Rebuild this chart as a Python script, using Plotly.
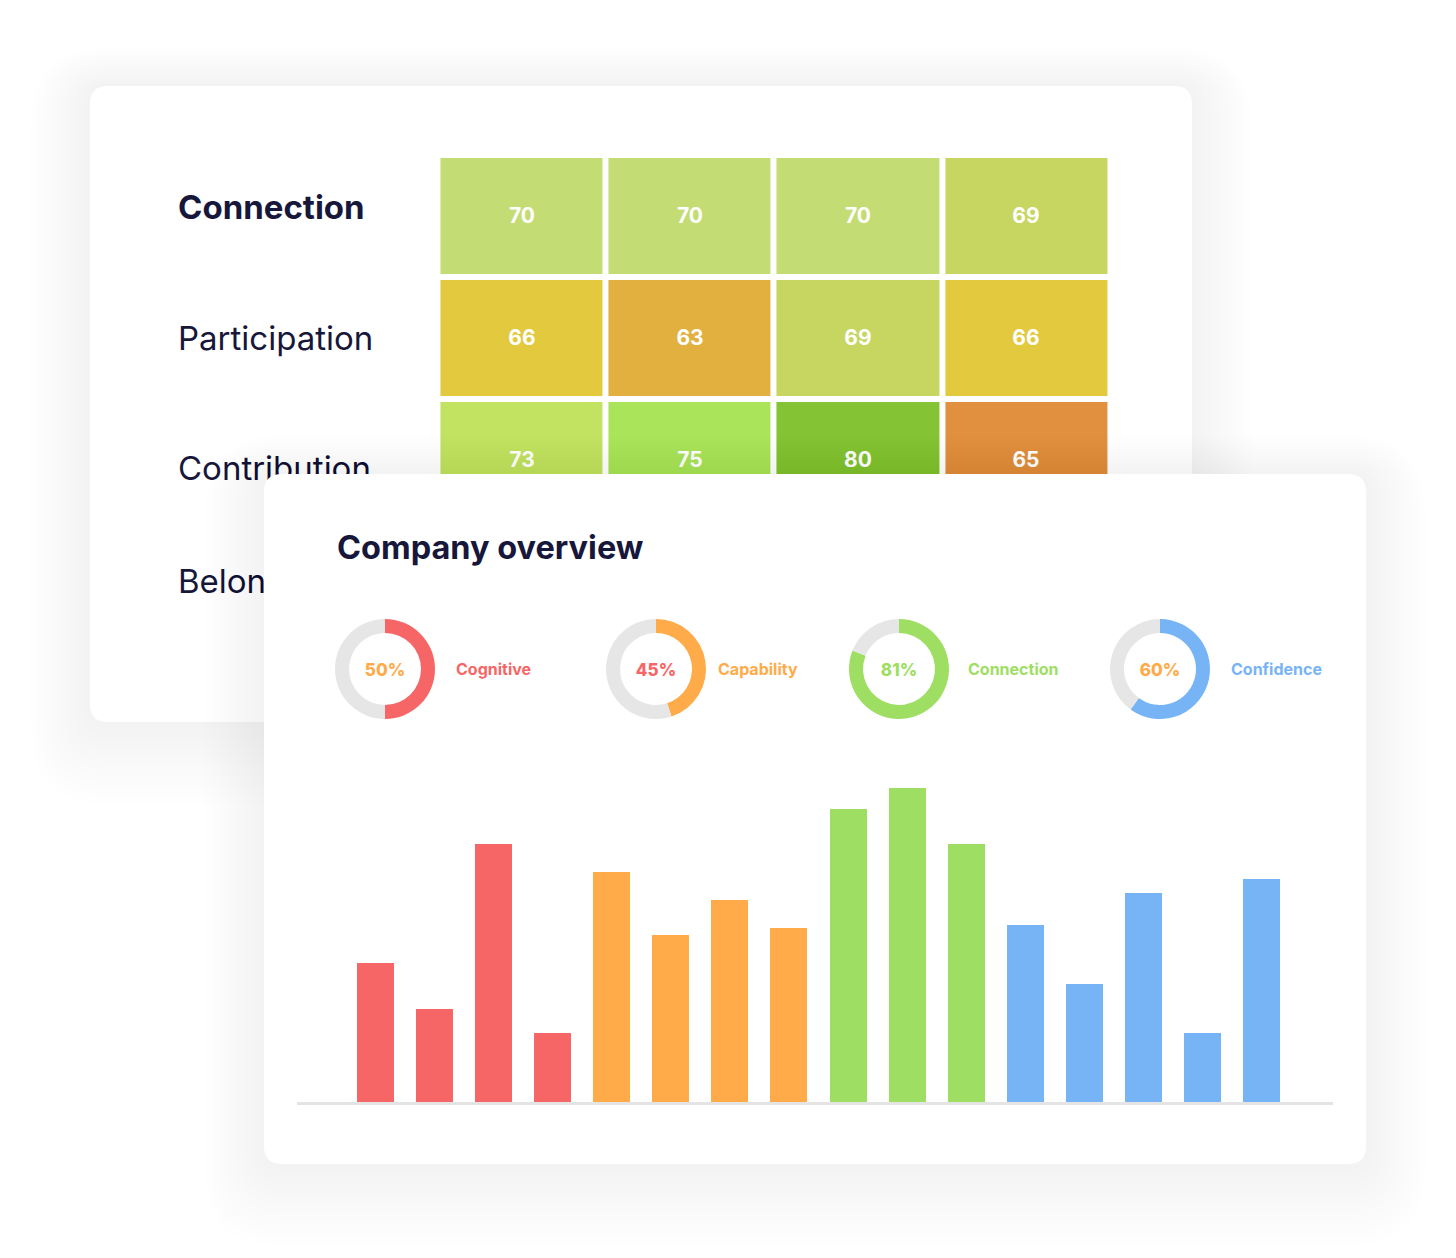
import plotly.graph_objects as go

# ---------------- DATA ----------------
ROW_NAMES = ["Connection", "Participation", "Contribution", "Belonging"]
CONNECTION_ROW = [70, 70, 70, 69]
PARTICIPATION_ROW = [66, 63, 69, 66]
CONTRIBUTION_ROW = [73, 75, 80, 65]

DIMENSIONS = ["Cognitive", "Capability", "Connection", "Confidence"]
DIMENSION_PCT = [50, 45, 81, 60]

COGNITIVE_BARS = [40, 27, 74, 20]
CAPABILITY_BARS = [66, 48, 58, 50]
CONNECTION_BARS = [84, 90, 74]
CONFIDENCE_BARS = [51, 34, 60, 20, 64]

TITLE = "Company overview"

# ---------------- STYLE / LAYOUT ----------------
W, H = 1456, 1258
FONT = "Inter"
NAVY = "#17173b"
SERIES_COLORS = ["#f76666", "#ffab4a", "#9ede62", "#76b4f6"]
CENTER_TEXT_COLORS = ["#ffab4a", "#f76666", "#9ede62", "#ffab4a"]
TRACK_GRAY = "#e6e6e6"
SCORE_COLORS = {63: "#e2b03e", 65: "#e0903e", 66: "#e2c93e", 69: "#c6d660",
                70: "#c4dc74", 73: "#c2e262", 75: "#aae45a", 80: "#84c434"}

CARD1 = (90, 86, 1192, 722)
CARD2 = (264, 474, 1366, 1164)
RADIUS = 18

COL0, COL_PITCH = 521.5, 168.2
ROW0, ROW_PITCH = 216, 122
LABEL_X_PX = 178
LABEL_Y_PX = [211, 342, 472, 585]

DONUT_CX = [385, 656, 899, 1160]
DONUT_CY = 669
DONUT_R = 50
DONUT_LABEL_X = [454, 716, 966, 1229]

BAR_LEFT_PX, BAR_RIGHT_PX = 346, 1291
BAR_BASE_PX, BAR_TOP_PX = 1103, 753


def px_x(p):
    return p / W


def px_y(p):
    return 1 - p / H


def rrect_path(x0, y0, x1, y1, r, fx=lambda v: v, fy=lambda v: v):
    pts = [
        ("M", [(x0 + r, y0)]),
        ("L", [(x1 - r, y0)]), ("Q", [(x1, y0), (x1, y0 + r)]),
        ("L", [(x1, y1 - r)]), ("Q", [(x1, y1), (x1 - r, y1)]),
        ("L", [(x0 + r, y1)]), ("Q", [(x0, y1), (x0, y1 - r)]),
        ("L", [(x0, y0 + r)]), ("Q", [(x0, y0), (x0 + r, y0)]),
    ]
    s = ""
    for cmd, ps in pts:
        s += cmd + " " + " ".join(f"{fx(a):.6f},{fy(b):.6f}" for a, b in ps) + " "
    return s + "Z"


fig = go.Figure()

# ---- subplot 1: heatmap card ----
zmin, zmax = min(SCORE_COLORS), max(SCORE_COLORS)
colorscale = [[(v - zmin) / (zmax - zmin), c] for v, c in sorted(SCORE_COLORS.items())]
z = [CONNECTION_ROW, PARTICIPATION_ROW, CONTRIBUTION_ROW]
fig.add_trace(go.Heatmap(
    z=z, x=list(range(len(CONNECTION_ROW))), y=list(range(len(z))),
    xgap=6, ygap=6, colorscale=colorscale, zmin=zmin, zmax=zmax,
    showscale=False, texttemplate="%{z}",
    textfont=dict(family=FONT, size=21, color="white", weight=700),
    hoverinfo="skip", xaxis="x", yaxis="y"))

labels = [f"<b>{ROW_NAMES[0]}</b>"] + ROW_NAMES[1:]
fig.add_trace(go.Scatter(
    x=[(LABEL_X_PX - COL0) / COL_PITCH] * len(ROW_NAMES),
    y=[(p - ROW0) / ROW_PITCH for p in LABEL_Y_PX],
    mode="text", text=labels, textposition="middle right",
    textfont=dict(family=FONT, size=33, color=NAVY),
    cliponaxis=True, hoverinfo="skip", showlegend=False, xaxis="x", yaxis="y"))

# ---- subplot 2: canvas for the front card ----
fig.add_trace(go.Scatter(x=[], y=[], xaxis="x2", yaxis="y2", showlegend=False))

# ---- subplot 3: bars ----
groups = [COGNITIVE_BARS, CAPABILITY_BARS, CONNECTION_BARS, CONFIDENCE_BARS]
idx = 0
for name, vals, col in zip(DIMENSIONS, groups, SERIES_COLORS):
    fig.add_trace(go.Bar(
        x=list(range(idx, idx + len(vals))), y=vals, name=name,
        marker=dict(color=col, line=dict(width=0)), width=0.626,
        hoverinfo="skip", showlegend=False, xaxis="x3", yaxis="y3"))
    idx += len(vals)
n_bars = idx

# ---- donuts ----
for i, (name, pct) in enumerate(zip(DIMENSIONS, DIMENSION_PCT)):
    cx = DONUT_CX[i]
    fig.add_trace(go.Pie(
        values=[pct, 100 - pct], labels=[name, "rest"], sort=False,
        direction="clockwise", rotation=0, hole=0.72,
        marker=dict(colors=[SERIES_COLORS[i], TRACK_GRAY], line=dict(width=0)),
        textinfo="none", hoverinfo="skip", showlegend=False,
        title=dict(text=f"{pct}%", position="middle center",
                   font=dict(family=FONT, size=17, color=CENTER_TEXT_COLORS[i], weight=800)),
        domain=dict(x=[px_x(cx - DONUT_R), px_x(cx + DONUT_R)],
                    y=[px_y(DONUT_CY + DONUT_R), px_y(DONUT_CY - DONUT_R)])))

# ---- shapes ----
shapes = []


def shadow_layers(card, xref, yref, fx, fy):
    out = []
    x0, y0, x1, y1 = card
    for k in range(1, 13):
        e = 5 * k
        dy = 1.8 * k
        out.append(dict(type="path", xref=xref, yref=yref, layer="below",
                        path=rrect_path(x0 - e, y0 - e + dy, x1 + e, y1 + e + dy,
                                        RADIUS + e, fx, fy),
                        fillcolor="rgba(70,70,95,0.0055)", line=dict(width=0)))
    return out


# card 1 (paper, under everything)
shapes += shadow_layers(CARD1, "paper", "paper", px_x, px_y)
shapes.append(dict(type="path", xref="paper", yref="paper", layer="below",
                   path=rrect_path(*CARD1, RADIUS, px_x, px_y),
                   fillcolor="white", line=dict(width=0)))
# card 2 (canvas subplot, above the heatmap)
shapes += shadow_layers(CARD2, "x2", "y2", lambda v: v, lambda v: v)
shapes.append(dict(type="path", xref="x2", yref="y2", layer="below",
                   path=rrect_path(*CARD2, RADIUS),
                   fillcolor="white", line=dict(width=0)))
# baseline
shapes.append(dict(type="line", xref="paper", yref="paper", layer="above",
                   x0=px_x(297), x1=px_x(1333), y0=px_y(1103.5), y1=px_y(1103.5),
                   line=dict(color="#e4e4e4", width=3)))

# ---- annotations ----
annotations = [dict(text=f"<b>{TITLE}</b>", x=px_x(335), y=px_y(547), xref="paper",
                    yref="paper", xanchor="left", yanchor="middle", showarrow=False,
                    font=dict(family=FONT, size=32.5, color=NAVY))]
for i, name in enumerate(DIMENSIONS):
    annotations.append(dict(text=f"<b>{name}</b>", x=px_x(DONUT_LABEL_X[i]), y=px_y(DONUT_CY),
                            xref="paper", yref="paper", xanchor="left", yanchor="middle",
                            showarrow=False,
                            font=dict(family=FONT, size=16, color=SERIES_COLORS[i])))

hidden = dict(visible=False, showgrid=False, zeroline=False, fixedrange=True)
fig.update_layout(
    width=W, height=H, margin=dict(l=0, r=0, t=0, b=0),
    paper_bgcolor="white", plot_bgcolor="rgba(0,0,0,0)",
    showlegend=False, bargap=0,
    xaxis=dict(domain=[px_x(CARD1[0]), px_x(CARD1[2])],
               range=[(CARD1[0] - COL0) / COL_PITCH, (CARD1[2] - COL0) / COL_PITCH],
               anchor="y", **hidden),
    yaxis=dict(domain=[px_y(CARD1[3]), px_y(CARD1[1])],
               range=[(CARD1[3] - ROW0) / ROW_PITCH, (CARD1[1] - ROW0) / ROW_PITCH],
               anchor="x", **hidden),
    xaxis2=dict(domain=[0, 1], range=[0, W], anchor="y2", **hidden),
    yaxis2=dict(domain=[0, 1], range=[H, 0], anchor="x2", **hidden),
    xaxis3=dict(domain=[px_x(BAR_LEFT_PX), px_x(BAR_RIGHT_PX)], range=[-0.5, n_bars - 0.5],
                anchor="y3", **hidden),
    yaxis3=dict(domain=[px_y(BAR_BASE_PX), px_y(BAR_TOP_PX)], range=[0, 100],
                anchor="x3", **hidden),
    shapes=shapes, annotations=annotations,
)

fig.write_html("out.html", config={"displayModeBar": False})
